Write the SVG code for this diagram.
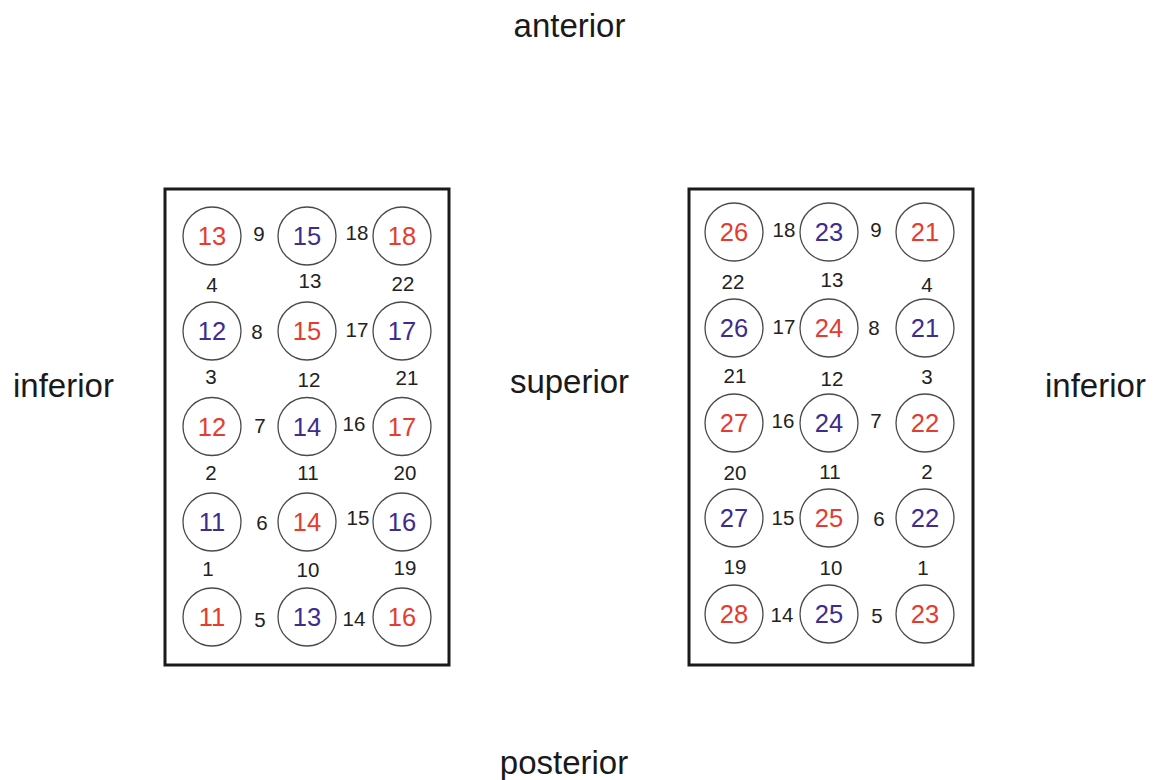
<svg xmlns="http://www.w3.org/2000/svg" width="1158" height="780" viewBox="0 0 1158 780">
<style>
text{font-family:"Liberation Sans",Arial,sans-serif;}
.dir{font-size:33px;fill:#1a1a1a;}
.box{fill:none;stroke:#1a1a1a;stroke-width:3;}
.c{fill:#fff;stroke:#4a4a4a;stroke-width:1.3;}
.n{font-size:25.5px;text-anchor:middle;}
.r{fill:#e63b2e;}
.p{fill:#3c2d8f;}
.s{font-size:20.5px;text-anchor:middle;fill:#222;}
</style>
<rect width="1158" height="780" fill="#fff"/>
<g id="orientation">
<text class="dir" x="569.5" y="37" text-anchor="middle">anterior</text>
<text class="dir" x="13" y="397">inferior</text>
<text class="dir" x="569.5" y="393" text-anchor="middle">superior</text>
<text class="dir" x="1045" y="397">inferior</text>
<text class="dir" x="564" y="774" text-anchor="middle">posterior</text>
</g>
<g id="left-panel">
<rect class="box" x="165" y="189" width="284" height="476"/>
<g id="L-r1c1"><circle class="c" cx="212" cy="236" r="29"/><text class="n r" x="212" y="245.1">13</text></g>
<g id="L-r1c2"><circle class="c" cx="307" cy="236" r="29"/><text class="n p" x="307" y="245.1">15</text></g>
<g id="L-r1c3"><circle class="c" cx="402" cy="236" r="29"/><text class="n r" x="402" y="245.1">18</text></g>
<g id="L-r2c1"><circle class="c" cx="212" cy="331" r="29"/><text class="n p" x="212" y="340.1">12</text></g>
<g id="L-r2c2"><circle class="c" cx="307" cy="331" r="29"/><text class="n r" x="307" y="340.1">15</text></g>
<g id="L-r2c3"><circle class="c" cx="402" cy="331" r="29"/><text class="n p" x="402" y="340.1">17</text></g>
<g id="L-r3c1"><circle class="c" cx="212" cy="426.5" r="29"/><text class="n r" x="212" y="435.6">12</text></g>
<g id="L-r3c2"><circle class="c" cx="307" cy="426.5" r="29"/><text class="n p" x="307" y="435.6">14</text></g>
<g id="L-r3c3"><circle class="c" cx="402" cy="426.5" r="29"/><text class="n r" x="402" y="435.6">17</text></g>
<g id="L-r4c1"><circle class="c" cx="212" cy="522" r="29"/><text class="n p" x="212" y="531.1">11</text></g>
<g id="L-r4c2"><circle class="c" cx="307" cy="522" r="29"/><text class="n r" x="307" y="531.1">14</text></g>
<g id="L-r4c3"><circle class="c" cx="402" cy="522" r="29"/><text class="n p" x="402" y="531.1">16</text></g>
<g id="L-r5c1"><circle class="c" cx="212" cy="617" r="29"/><text class="n r" x="212" y="626.1">11</text></g>
<g id="L-r5c2"><circle class="c" cx="307" cy="617" r="29"/><text class="n p" x="307" y="626.1">13</text></g>
<g id="L-r5c3"><circle class="c" cx="402" cy="617" r="29"/><text class="n r" x="402" y="626.1">16</text></g>
</g>
<g id="right-panel">
<rect class="box" x="689" y="189" width="284" height="476"/>
<g id="R-r1c1"><circle class="c" cx="734" cy="232" r="29"/><text class="n r" x="734" y="241.1">26</text></g>
<g id="R-r1c2"><circle class="c" cx="829" cy="232" r="29"/><text class="n p" x="829" y="241.1">23</text></g>
<g id="R-r1c3"><circle class="c" cx="925" cy="232" r="29"/><text class="n r" x="925" y="241.1">21</text></g>
<g id="R-r2c1"><circle class="c" cx="734" cy="328" r="29"/><text class="n p" x="734" y="337.1">26</text></g>
<g id="R-r2c2"><circle class="c" cx="829" cy="328" r="29"/><text class="n r" x="829" y="337.1">24</text></g>
<g id="R-r2c3"><circle class="c" cx="925" cy="328" r="29"/><text class="n p" x="925" y="337.1">21</text></g>
<g id="R-r3c1"><circle class="c" cx="734" cy="423" r="29"/><text class="n r" x="734" y="432.1">27</text></g>
<g id="R-r3c2"><circle class="c" cx="829" cy="423" r="29"/><text class="n p" x="829" y="432.1">24</text></g>
<g id="R-r3c3"><circle class="c" cx="925" cy="423" r="29"/><text class="n r" x="925" y="432.1">22</text></g>
<g id="R-r4c1"><circle class="c" cx="734" cy="518" r="29"/><text class="n p" x="734" y="527.1">27</text></g>
<g id="R-r4c2"><circle class="c" cx="829" cy="518" r="29"/><text class="n r" x="829" y="527.1">25</text></g>
<g id="R-r4c3"><circle class="c" cx="925" cy="518" r="29"/><text class="n p" x="925" y="527.1">22</text></g>
<g id="R-r5c1"><circle class="c" cx="734" cy="614" r="29"/><text class="n r" x="734" y="623.1">28</text></g>
<g id="R-r5c2"><circle class="c" cx="829" cy="614" r="29"/><text class="n p" x="829" y="623.1">25</text></g>
<g id="R-r5c3"><circle class="c" cx="925" cy="614" r="29"/><text class="n r" x="925" y="623.1">23</text></g>
</g>
<g id="connectors">
<g id="left-labels">
<text class="s" x="259" y="241.3">9</text><text class="s" x="357" y="240.3">18</text>
<text class="s" x="212" y="292.3">4</text><text class="s" x="310" y="288.3">13</text><text class="s" x="403" y="291.3">22</text>
<text class="s" x="257" y="339.3">8</text><text class="s" x="357" y="337.3">17</text>
<text class="s" x="211" y="384.3">3</text><text class="s" x="309" y="387.3">12</text><text class="s" x="407" y="385.3">21</text>
<text class="s" x="260" y="433.3">7</text><text class="s" x="354" y="431.3">16</text>
<text class="s" x="211" y="480.3">2</text><text class="s" x="308" y="480.3">11</text><text class="s" x="405" y="480.3">20</text>
<text class="s" x="262" y="530.3">6</text><text class="s" x="358" y="525.3">15</text>
<text class="s" x="208" y="576.3">1</text><text class="s" x="308" y="577.3">10</text><text class="s" x="405" y="575.3">19</text>
<text class="s" x="260" y="627.3">5</text><text class="s" x="354" y="626.3">14</text>
</g>
<g id="right-labels">
<text class="s" x="784" y="237.3">18</text><text class="s" x="876" y="237.3">9</text>
<text class="s" x="733" y="289.3">22</text><text class="s" x="832" y="287.3">13</text><text class="s" x="927" y="292.3">4</text>
<text class="s" x="784" y="334.3">17</text><text class="s" x="874" y="335.3">8</text>
<text class="s" x="735" y="383.3">21</text><text class="s" x="832" y="386.3">12</text><text class="s" x="927" y="384.3">3</text>
<text class="s" x="783" y="428.3">16</text><text class="s" x="876" y="428.3">7</text>
<text class="s" x="735" y="480.3">20</text><text class="s" x="830" y="479.3">11</text><text class="s" x="927" y="479.3">2</text>
<text class="s" x="783" y="525.3">15</text><text class="s" x="879" y="526.3">6</text>
<text class="s" x="735" y="574.3">19</text><text class="s" x="831" y="575.3">10</text><text class="s" x="923" y="575.3">1</text>
<text class="s" x="782" y="622.3">14</text><text class="s" x="877" y="623.3">5</text>
</g>
</g>
</svg>
